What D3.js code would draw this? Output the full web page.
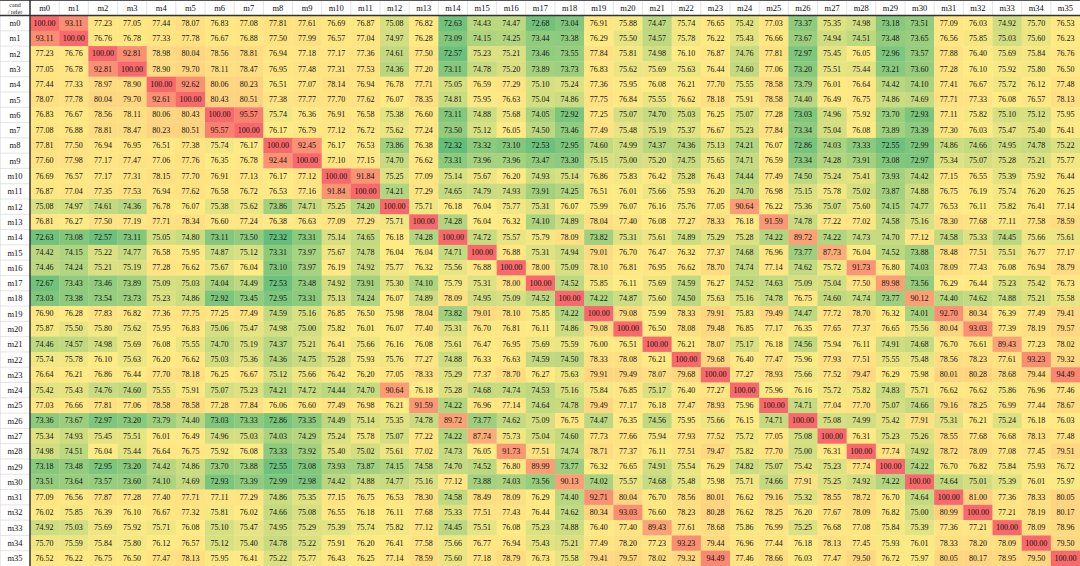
<!DOCTYPE html>
<html><head><meta charset="utf-8">
<script src="https://cdn.jsdelivr.net/npm/d3@7/dist/d3.min.js"></script>
<style>body{margin:0;background:#fff}svg{display:block}text{font-family:"Liberation Serif","DejaVu Serif",serif}</style>
</head><body><svg id="c" width="1080" height="566"></svg>
<script>
const labels = d3.range(36).map(i => "m" + i);
const r0 = [100.00,93.11,77.23,77.05,77.44,78.07,76.83,77.08,77.81,77.61,76.69,76.87,75.08,76.82,72.63,74.43,74.47,72.68,73.04,76.91,75.88,74.47,75.74,76.65,75.42,77.03,73.37,75.35,74.98,73.18,73.51,77.09,76.03,74.92,75.70,76.53];
const r1 = [93.11,100.00,76.76,76.78,77.33,77.78,76.67,76.88,77.50,77.99,76.57,77.04,74.97,76.28,73.09,74.15,74.25,73.44,73.38,76.29,75.50,74.57,75.78,76.22,75.43,76.66,73.67,74.94,74.51,73.48,73.65,76.56,75.85,75.03,75.60,76.23];
const r2 = [77.23,76.76,100.00,92.81,78.98,80.04,78.56,78.81,76.94,77.18,77.17,77.36,74.61,77.50,72.57,75.23,75.21,73.46,73.55,77.84,75.81,74.98,76.10,76.87,74.76,77.81,72.97,75.45,76.05,72.96,73.57,77.88,76.40,75.69,75.84,76.76];
const r3 = [77.05,76.78,92.81,100.00,78.90,79.70,78.11,78.47,76.95,77.48,77.31,77.53,74.36,77.20,73.11,74.78,75.20,73.89,73.73,76.83,75.62,75.69,75.63,76.44,74.60,77.06,73.20,75.51,75.44,73.21,73.60,77.28,76.10,75.92,75.80,76.50];
const r4 = [77.44,77.33,78.97,78.90,100.00,92.62,80.06,80.23,76.51,77.07,78.14,76.94,76.78,77.71,75.05,76.59,77.29,75.10,75.24,77.36,75.95,76.08,76.21,77.70,75.55,78.58,73.79,76.01,76.64,74.42,74.10,77.41,76.67,75.72,76.12,77.48];
const r5 = [78.07,77.78,80.04,79.70,92.61,100.00,80.43,80.51,77.38,77.77,77.70,77.62,76.07,78.35,74.81,75.95,76.63,75.04,74.86,77.75,76.84,75.55,76.62,78.18,75.91,78.58,74.40,76.49,76.75,74.86,74.69,77.71,77.33,76.08,76.57,78.13];
const r6 = [76.83,76.67,78.56,78.11,80.06,80.43,100.00,95.57,75.74,76.36,76.91,76.58,75.38,76.60,73.11,74.88,75.68,74.05,72.92,77.25,75.07,74.70,75.03,76.25,75.07,77.28,73.03,74.96,75.92,73.70,72.93,77.11,75.82,75.10,75.12,75.95];
const r7 = [77.08,76.88,78.81,78.47,80.23,80.51,95.57,100.00,76.17,76.79,77.12,76.72,75.62,77.24,73.50,75.12,76.05,74.50,73.46,77.49,75.48,75.19,75.37,76.67,75.23,77.84,73.34,75.04,76.08,73.89,73.39,77.30,76.03,75.47,75.40,76.41];
const r8 = [77.81,77.50,76.94,76.95,76.51,77.38,75.74,76.17,100.00,92.45,76.17,76.53,73.86,76.38,72.32,73.32,73.10,72.53,72.95,74.60,74.99,74.37,74.36,75.13,74.21,76.07,72.86,74.03,73.33,72.55,72.99,74.86,74.66,74.95,74.78,75.22];
const r9 = [77.60,77.98,77.17,77.47,77.06,77.76,76.35,76.78,92.44,100.00,77.10,77.15,74.70,76.62,73.31,73.96,73.96,73.47,73.30,75.15,75.00,75.20,74.75,75.65,74.71,76.59,73.34,74.28,73.91,73.08,72.97,75.34,75.07,75.28,75.21,75.77];
const r10 = [76.69,76.57,77.17,77.31,78.15,77.70,76.91,77.13,76.17,77.12,100.00,91.84,75.25,77.09,75.14,75.67,76.20,74.93,75.14,76.86,75.83,76.42,75.28,76.43,74.44,77.49,74.50,75.24,75.41,73.93,74.42,77.15,76.55,75.39,75.92,76.44];
const r11 = [76.87,77.04,77.35,77.53,76.94,77.62,76.58,76.72,76.53,77.16,91.84,100.00,74.21,77.29,74.65,74.79,74.93,73.91,74.25,76.51,76.01,75.66,75.93,76.20,74.70,76.98,75.15,75.78,75.02,73.87,74.88,76.75,76.19,75.74,76.20,76.25];
const r12 = [75.08,74.97,74.61,74.36,76.78,76.07,75.38,75.62,73.86,74.71,75.25,74.20,100.00,75.71,76.18,76.04,75.77,75.31,76.07,75.99,76.07,76.16,75.76,77.05,90.64,76.22,75.36,75.07,75.60,74.15,74.77,76.53,76.11,75.82,76.41,77.14];
const r13 = [76.81,76.27,77.50,77.19,77.71,78.34,76.60,77.24,76.38,76.63,77.09,77.29,75.71,100.00,74.28,76.04,76.32,74.10,74.89,78.04,77.40,76.08,77.27,78.33,76.18,91.59,74.78,77.22,77.02,74.58,75.16,78.30,77.68,77.11,77.58,78.59];
const r14 = [72.63,73.08,72.57,73.11,75.05,74.80,73.11,73.50,72.32,73.31,75.14,74.65,76.18,74.28,100.00,74.72,75.57,75.79,78.09,73.82,75.31,75.61,74.89,75.29,75.28,74.22,89.72,74.22,74.73,74.70,77.12,74.58,75.33,74.45,75.66,75.61];
const r15 = [74.42,74.15,75.22,74.77,76.58,75.95,74.87,75.12,73.31,73.97,75.67,74.78,76.04,76.04,74.71,100.00,76.88,75.31,74.94,79.01,76.70,76.47,76.32,77.37,74.68,76.96,73.77,87.73,76.04,74.52,73.88,78.48,77.51,75.51,76.77,77.17];
const r16 = [74.46,74.24,75.21,75.19,77.28,76.62,75.67,76.04,73.10,73.97,76.19,74.92,75.77,76.32,75.56,76.88,100.00,78.00,75.09,78.10,76.81,76.95,76.62,78.70,74.74,77.14,74.62,75.72,91.73,76.80,74.03,78.09,77.43,76.08,76.94,78.79];
const r17 = [72.67,73.43,73.46,73.89,75.09,75.03,74.04,74.49,72.53,73.48,74.92,73.91,75.30,74.10,75.79,75.31,78.00,100.00,74.52,75.85,76.11,75.69,74.59,76.27,74.52,74.63,75.09,75.04,77.50,89.98,73.56,76.29,76.44,75.23,75.42,76.73];
const r18 = [73.03,73.38,73.54,73.73,75.23,74.86,72.92,73.45,72.95,73.31,75.13,74.24,76.07,74.89,78.09,74.95,75.09,74.52,100.00,74.22,74.87,75.60,74.50,75.63,75.16,74.78,76.75,74.60,74.74,73.77,90.12,74.40,74.62,74.88,75.21,75.58];
const r19 = [76.90,76.28,77.83,76.82,77.36,77.75,77.25,77.49,74.59,75.16,76.85,76.50,75.98,78.04,73.82,79.01,78.10,75.85,74.22,100.00,79.08,75.99,78.33,79.91,75.83,79.49,74.47,77.72,78.70,76.32,74.01,92.70,80.34,76.39,77.49,79.41];
const r20 = [75.87,75.50,75.80,75.62,75.95,76.83,75.06,75.47,74.98,75.00,75.82,76.01,76.07,77.40,75.31,76.70,76.81,76.11,74.86,79.08,100.00,76.50,78.08,79.48,76.85,77.17,76.35,77.65,77.37,76.65,75.56,80.04,93.03,77.39,78.19,79.57];
const r21 = [74.46,74.57,74.98,75.69,76.08,75.55,74.70,75.19,74.37,75.21,76.41,75.66,76.16,76.08,75.61,76.47,76.95,75.69,75.59,76.00,76.51,100.00,76.21,78.07,75.17,76.18,74.56,75.94,76.11,74.91,74.68,76.70,76.61,89.43,77.23,78.02];
const r22 = [75.74,75.78,76.10,75.63,76.20,76.62,75.03,75.36,74.36,74.75,75.28,75.93,75.76,77.27,74.88,76.33,76.63,74.59,74.50,78.33,78.08,76.21,100.00,79.68,76.40,77.47,75.96,77.93,77.51,75.55,75.48,78.56,78.23,77.61,93.23,79.32];
const r23 = [76.64,76.21,76.86,76.44,77.70,78.18,76.25,76.67,75.12,75.66,76.42,76.20,77.05,78.33,75.29,77.37,78.70,76.27,75.63,79.91,79.49,78.07,79.68,100.00,77.27,78.93,75.66,77.52,79.47,76.29,75.98,80.01,80.28,78.68,79.44,94.49];
const r24 = [75.42,75.43,74.76,74.60,75.55,75.91,75.07,75.23,74.21,74.72,74.44,74.70,90.64,76.18,75.28,74.68,74.74,74.53,75.16,75.84,76.85,75.17,76.40,77.27,100.00,75.96,76.16,75.72,75.82,74.83,75.71,76.62,76.62,75.86,76.96,77.46];
const r25 = [77.03,76.66,77.81,77.06,78.58,78.58,77.28,77.84,76.06,76.60,77.49,76.98,76.21,91.59,74.22,76.96,77.14,74.64,74.78,79.49,77.17,76.18,77.47,78.93,75.96,100.00,74.71,77.04,77.70,75.07,74.66,79.16,78.25,76.99,77.44,78.67];
const r26 = [73.36,73.67,72.97,73.20,73.79,74.40,73.03,73.33,72.86,73.35,74.49,75.14,75.35,74.78,89.72,73.77,74.62,75.09,76.75,74.47,76.35,74.56,75.95,75.66,76.15,74.71,100.00,75.08,74.99,75.42,77.91,75.31,76.21,75.24,76.18,76.03];
const r27 = [75.34,74.93,75.45,75.51,76.01,76.49,74.96,75.03,74.03,74.29,75.24,75.78,75.07,77.22,74.22,87.74,75.73,75.04,74.60,77.73,77.66,75.94,77.93,77.52,75.72,77.05,75.08,100.00,76.31,75.23,75.26,78.55,77.68,76.68,78.13,77.48];
const r28 = [74.98,74.51,76.04,75.44,76.64,76.75,75.92,76.08,73.33,73.92,75.40,75.02,75.61,77.02,74.73,76.05,91.73,77.51,74.74,78.71,77.37,76.11,77.51,79.47,75.82,77.70,75.00,76.31,100.00,77.74,74.92,78.72,78.09,77.08,77.45,79.51];
const r29 = [73.18,73.48,72.95,73.20,74.42,74.86,73.70,73.88,72.55,73.08,73.93,73.87,74.15,74.58,74.70,74.52,76.80,89.99,73.77,76.32,76.65,74.91,75.54,76.29,74.82,75.07,75.42,75.23,77.74,100.00,74.22,76.70,76.82,75.84,75.93,76.72];
const r30 = [73.51,73.64,73.57,73.60,74.10,74.69,72.93,73.39,72.99,72.98,74.42,74.88,74.77,75.16,77.12,73.88,74.03,73.56,90.13,74.02,75.57,74.68,75.48,75.98,75.71,74.66,77.91,75.25,74.92,74.22,100.00,74.64,75.01,75.39,76.01,75.97];
const r31 = [77.09,76.56,77.87,77.28,77.40,77.71,77.11,77.29,74.86,75.35,77.15,76.75,76.53,78.30,74.58,78.49,78.09,76.29,74.40,92.71,80.04,76.70,78.56,80.01,76.62,79.16,75.32,78.55,78.72,76.70,74.64,100.00,81.00,77.36,78.33,80.05];
const r32 = [76.02,75.85,76.39,76.10,76.67,77.32,75.81,76.02,74.66,75.08,76.55,76.18,76.11,77.68,75.33,77.51,77.43,76.44,74.62,80.34,93.03,76.60,78.23,80.28,76.62,78.25,76.20,77.67,78.09,76.82,75.00,80.99,100.00,77.21,78.19,80.17];
const r33 = [74.92,75.03,75.69,75.92,75.71,76.08,75.10,75.47,74.95,75.29,75.39,75.74,75.82,77.12,74.45,75.51,76.08,75.23,74.88,76.40,77.40,89.43,77.61,78.68,75.86,76.99,75.25,76.68,77.08,75.84,75.39,77.36,77.21,100.00,78.09,78.96];
const r34 = [75.70,75.59,75.84,75.80,76.12,76.57,75.12,75.40,74.78,75.22,75.91,76.20,76.41,77.58,75.66,76.77,76.94,75.43,75.21,77.49,78.20,77.23,93.23,79.44,76.96,77.44,76.18,78.13,77.45,75.93,76.01,78.33,78.20,78.09,100.00,79.50];
const r35 = [76.52,76.22,76.75,76.50,77.47,78.13,75.95,76.41,75.22,75.77,76.43,76.25,77.14,78.59,75.60,77.18,78.79,76.73,75.58,79.41,79.57,78.02,79.32,94.49,77.46,78.66,76.03,77.47,79.50,76.72,75.97,80.05,80.17,78.95,79.50,100.00];
const rows = [r0,r1,r2,r3,r4,r5,r6,r7,r8,r9,r10,r11,r12,r13,r14,r15,r16,r17,r18,r19,r20,r21,r22,r23,r24,r25,r26,r27,r28,r29,r30,r31,r32,r33,r34,r35];

const W = 1080, H = 566, leftW = 30, topH = 15.5;
const svg = d3.select("#c");
const x = d3.scaleBand().domain(labels).range([leftW, W]);
const y = d3.scaleBand().domain(labels).range([topH, H]);

const allVals = rows.flat().sort(d3.ascending);
const vmin = d3.min(allVals), vmax = d3.max(allVals), vmid = d3.quantileSorted(allVals, 0.5);
const color = d3.scaleLinear().domain([vmin, vmid, vmax])
  .range(["#63be7b", "#ffeb84", "#f8696b"]).interpolate(d3.interpolateRgb);

const cells = [];
rows.forEach((r, i) => r.forEach((v, j) => cells.push({row: labels[i], col: labels[j], v})));

svg.append("g").selectAll("rect").data(cells).join("rect")
  .attr("x", d => x(d.col)).attr("y", d => y(d.row))
  .attr("width", x.bandwidth() + 0.3).attr("height", y.bandwidth() + 0.3)
  .attr("fill", d => color(d.v));

svg.append("g").selectAll("text").data(cells).join("text")
  .attr("x", d => x(d.col) + x.bandwidth() / 2)
  .attr("y", d => y(d.row) + y.bandwidth() / 2)
  .attr("text-anchor", "middle").attr("dominant-baseline", "central")
  .attr("font-size", 8).attr("fill", "#111")
  .text(d => d.v.toFixed(2));

const g = svg.append("g").attr("stroke", "#d4d4d4").attr("stroke-width", 0.6);
labels.forEach(l => {
  g.append("line").attr("x1", x(l)).attr("x2", x(l)).attr("y1", 0).attr("y2", topH);
  g.append("line").attr("x1", 0).attr("x2", leftW).attr("y1", y(l)).attr("y2", y(l));
});
g.append("line").attr("x1", 0.3).attr("x2", 0.3).attr("y1", 0).attr("y2", H);

svg.append("g").selectAll("text").data(labels).join("text")
  .attr("x", d => x(d) + x.bandwidth() / 2).attr("y", topH / 2 + 0.5)
  .attr("text-anchor", "middle").attr("dominant-baseline", "central")
  .attr("font-size", 8.5).attr("fill", "#111").text(d => d);

svg.append("g").selectAll("text").data(labels).join("text")
  .attr("x", leftW / 2).attr("y", d => y(d) + y.bandwidth() / 2)
  .attr("text-anchor", "middle").attr("dominant-baseline", "central")
  .attr("font-size", 8.5).attr("fill", "#111").text(d => d);

svg.append("text").attr("x", leftW / 2).attr("y", 5).attr("text-anchor", "middle")
  .attr("dominant-baseline", "central").attr("font-size", 6).attr("fill", "#222").text("cand");
svg.append("text").attr("x", leftW / 2).attr("y", 11.5).attr("text-anchor", "middle")
  .attr("dominant-baseline", "central").attr("font-size", 6).attr("fill", "#222").text("/ refer");

svg.append("line").attr("x1", 0).attr("x2", W).attr("y1", 0.5).attr("y2", 0.5).attr("stroke", "#555").attr("stroke-width", 1);
svg.append("line").attr("x1", 0).attr("x2", W).attr("y1", topH).attr("y2", topH).attr("stroke", "#333").attr("stroke-width", 1.5);
svg.append("line").attr("x1", leftW).attr("x2", leftW).attr("y1", 0).attr("y2", H).attr("stroke", "#333").attr("stroke-width", 1.5);
</script></body></html>
